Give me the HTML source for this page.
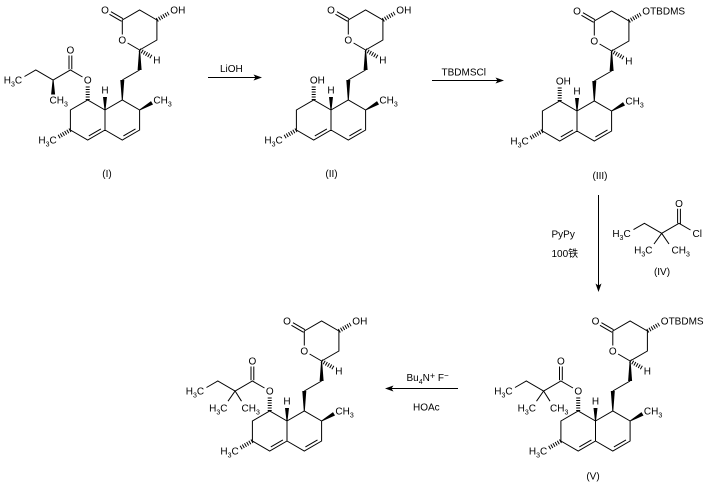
<!DOCTYPE html>
<html>
<head>
<meta charset="utf-8">
<style>
html,body{margin:0;padding:0;background:#fff;}
svg{display:block;}
text{font-family:"Liberation Sans",Arial,"Noto Sans CJK SC",sans-serif;font-size:10px;fill:#000;}
.b{stroke:#000;stroke-width:1;fill:none;}
.h{stroke:#000;stroke-width:4;stroke-dasharray:1 1.5;fill:none;}
polygon{fill:#000;stroke:none;}
</style>
</head>
<body>
<svg width="708" height="484" viewBox="0 0 708 484" xmlns="http://www.w3.org/2000/svg">

<!-- ========== Molecule I ========== -->
<g transform="translate(105,110)">
  <path class="b" d="M0,0 L-17.3,-10 L-34.6,0 L-34.6,20 L-17.3,30 L0,20 Z M0,0 L17.3,-10 L34.6,0 L34.6,20 L17.3,30 L0,20 M-16.2,25.9 L-4.1,18.9 M18.4,25.9 L30.5,18.9 M17.3,-30 L34.6,-40 M34.6,-60 L22.6,-67 M17.3,-75.5 L17.3,-90 L34.6,-100 L51.9,-90 L51.9,-70 L34.6,-60 M18.05,-91.3 L5.95,-98.3 M16.55,-88.7 L4.45,-95.7"/>
  <polygon points="-0.5,0 0.5,0 2,-13 -2,-13"/>
  <polygon points="16.8,-10 17.8,-10 19.3,-30 15.3,-30"/>
  <polygon points="34.1,-60 35.1,-60 36.6,-40 32.6,-40"/>
  <polygon points="34.35,-0.43 34.85,0.43 48,-5.5 46,-8.9"/>
  <line class="h" x1="-34.6" y1="20" x2="-46.5" y2="26.9"/>
  <line class="h" x1="34.6" y1="-60" x2="46.5" y2="-53.1"/>
  <line class="h" x1="51.9" y1="-90" x2="63.5" y2="-96.7"/>
  <text x="0" y="-16.4" text-anchor="middle">H</text>
  <text x="48.4" y="-6.4">CH<tspan dy="3" font-size="7">3</tspan></text>
  <text x="-48.3" y="33.6" text-anchor="end">H<tspan dy="3" font-size="7">3</tspan><tspan dy="-3">C</tspan></text>
  <text x="17.3" y="-66.4" text-anchor="middle">O</text>
  <text x="0" y="-96.4" text-anchor="middle">O</text>
  <text x="51.9" y="-46.4" text-anchor="middle">H</text>
  <text x="65.3" y="-96.4">OH</text>
  <!-- butanoate ester -->
  <line class="h" x1="-17.3" y1="-10" x2="-17.3" y2="-24.5"/>
  <path class="b" d="M-22.5,-33 L-34.6,-40 L-51.9,-30 L-69.2,-40 L-80.5,-33.5 M-36,-40.8 L-36,-54.5 M-33.2,-40.8 L-33.2,-54.5"/>
  <polygon points="-52.4,-30 -51.4,-30 -49.9,-15.5 -53.9,-15.5"/>
  <text x="-17.3" y="-26.4" text-anchor="middle">O</text>
  <text x="-34.6" y="-56.4" text-anchor="middle">O</text>
  <text x="-55.5" y="-6.4">CH<tspan dy="3" font-size="7">3</tspan></text>
  <text x="-82.9" y="-26.4" text-anchor="end">H<tspan dy="3" font-size="7">3</tspan><tspan dy="-3">C</tspan></text>
</g>
<text x="107" y="177" text-anchor="middle">(I)</text>

<!-- ========== Arrow 1 ========== -->
<line class="b" x1="208" y1="77.5" x2="256" y2="77.5"/>
<polygon points="262,77.5 253.5,74.5 255.5,77.5 253.5,80.5"/>
<text x="220" y="72">LiOH</text>

<!-- ========== Molecule II ========== -->
<g transform="translate(331,110)">
  <path class="b" d="M0,0 L-17.3,-10 L-34.6,0 L-34.6,20 L-17.3,30 L0,20 Z M0,0 L17.3,-10 L34.6,0 L34.6,20 L17.3,30 L0,20 M-16.2,25.9 L-4.1,18.9 M18.4,25.9 L30.5,18.9 M17.3,-30 L34.6,-40 M34.6,-60 L22.6,-67 M17.3,-75.5 L17.3,-90 L34.6,-100 L51.9,-90 L51.9,-70 L34.6,-60 M18.05,-91.3 L5.95,-98.3 M16.55,-88.7 L4.45,-95.7"/>
  <polygon points="-0.5,0 0.5,0 2,-13 -2,-13"/>
  <polygon points="16.8,-10 17.8,-10 19.3,-30 15.3,-30"/>
  <polygon points="34.1,-60 35.1,-60 36.6,-40 32.6,-40"/>
  <polygon points="34.35,-0.43 34.85,0.43 48,-5.5 46,-8.9"/>
  <line class="h" x1="-34.6" y1="20" x2="-46.5" y2="26.9"/>
  <line class="h" x1="34.6" y1="-60" x2="46.5" y2="-53.1"/>
  <line class="h" x1="51.9" y1="-90" x2="63.5" y2="-96.7"/>
  <text x="0" y="-16.4" text-anchor="middle">H</text>
  <text x="48.4" y="-6.4">CH<tspan dy="3" font-size="7">3</tspan></text>
  <text x="-48.3" y="33.6" text-anchor="end">H<tspan dy="3" font-size="7">3</tspan><tspan dy="-3">C</tspan></text>
  <text x="17.3" y="-66.4" text-anchor="middle">O</text>
  <text x="0" y="-96.4" text-anchor="middle">O</text>
  <text x="51.9" y="-46.4" text-anchor="middle">H</text>
  <text x="65.3" y="-96.4">OH</text>
  <line class="h" x1="-17.3" y1="-10" x2="-17.3" y2="-24.5"/>
  <text x="-21.2" y="-26.4">OH</text>
</g>
<text x="331.5" y="177" text-anchor="middle">(II)</text>

<!-- ========== Arrow 2 ========== -->
<line class="b" x1="432" y1="80.5" x2="498" y2="80.5"/>
<polygon points="504,80.5 495.5,77.5 497.5,80.5 495.5,83.5"/>
<text x="441.5" y="75.5">TBDMSCl</text>

<!-- ========== Molecule III ========== -->
<g transform="translate(577,111)">
  <path class="b" d="M0,0 L-17.3,-10 L-34.6,0 L-34.6,20 L-17.3,30 L0,20 Z M0,0 L17.3,-10 L34.6,0 L34.6,20 L17.3,30 L0,20 M-16.2,25.9 L-4.1,18.9 M18.4,25.9 L30.5,18.9 M17.3,-30 L34.6,-40 M34.6,-60 L22.6,-67 M17.3,-75.5 L17.3,-90 L34.6,-100 L51.9,-90 L51.9,-70 L34.6,-60 M18.05,-91.3 L5.95,-98.3 M16.55,-88.7 L4.45,-95.7"/>
  <polygon points="-0.5,0 0.5,0 2,-13 -2,-13"/>
  <polygon points="16.8,-10 17.8,-10 19.3,-30 15.3,-30"/>
  <polygon points="34.1,-60 35.1,-60 36.6,-40 32.6,-40"/>
  <polygon points="34.35,-0.43 34.85,0.43 48,-5.5 46,-8.9"/>
  <line class="h" x1="-34.6" y1="20" x2="-46.5" y2="26.9"/>
  <line class="h" x1="34.6" y1="-60" x2="46.5" y2="-53.1"/>
  <line class="h" x1="51.9" y1="-90" x2="63.5" y2="-96.7"/>
  <text x="0" y="-16.4" text-anchor="middle">H</text>
  <text x="48.4" y="-6.4">CH<tspan dy="3" font-size="7">3</tspan></text>
  <text x="-48.3" y="33.6" text-anchor="end">H<tspan dy="3" font-size="7">3</tspan><tspan dy="-3">C</tspan></text>
  <text x="17.3" y="-66.4" text-anchor="middle">O</text>
  <text x="0" y="-96.4" text-anchor="middle">O</text>
  <text x="51.9" y="-46.4" text-anchor="middle">H</text>
  <text x="65.3" y="-96.4">OTBDMS</text>
  <line class="h" x1="-17.3" y1="-10" x2="-17.3" y2="-24.5"/>
  <text x="-21.2" y="-26.4">OH</text>
</g>
<text x="600" y="179" text-anchor="middle">(III)</text>

<!-- ========== Arrow 3 (down) ========== -->
<line class="b" x1="598.5" y1="195" x2="598.5" y2="286"/>
<polygon points="598.5,292 595.5,283.5 598.5,285.5 601.5,283.5"/>
<text x="551.5" y="237.5">PyPy</text>
<text x="551.5" y="257">100铁</text>

<!-- ========== Reagent IV ========== -->
<path class="b" d="M633.5,229.6 L644.4,223.3 L661.7,233.3 L679,223.3 L690.5,230 M677.6,223.3 L677.6,208.8 M680.4,224.1 L680.4,208.8 M661.7,233.3 L654,244 M661.7,233.3 L669,244"/>
<text x="679" y="206.9" text-anchor="middle">O</text>
<text x="692.5" y="236.9">Cl</text>
<text x="630.7" y="236.9" text-anchor="end">H<tspan dy="3" font-size="7">3</tspan><tspan dy="-3">C</tspan></text>
<text x="652.5" y="253.5" text-anchor="end">H<tspan dy="3" font-size="7">3</tspan><tspan dy="-3">C</tspan></text>
<text x="671.5" y="253.5">CH<tspan dy="3" font-size="7">3</tspan></text>
<text x="662" y="275" text-anchor="middle">(IV)</text>

<!-- ========== Molecule V ========== -->
<g transform="translate(595.5,421)">
  <path class="b" d="M0,0 L-17.3,-10 L-34.6,0 L-34.6,20 L-17.3,30 L0,20 Z M0,0 L17.3,-10 L34.6,0 L34.6,20 L17.3,30 L0,20 M-16.2,25.9 L-4.1,18.9 M18.4,25.9 L30.5,18.9 M17.3,-30 L34.6,-40 M34.6,-60 L22.6,-67 M17.3,-75.5 L17.3,-90 L34.6,-100 L51.9,-90 L51.9,-70 L34.6,-60 M18.05,-91.3 L5.95,-98.3 M16.55,-88.7 L4.45,-95.7"/>
  <polygon points="-0.5,0 0.5,0 2,-13 -2,-13"/>
  <polygon points="16.8,-10 17.8,-10 19.3,-30 15.3,-30"/>
  <polygon points="34.1,-60 35.1,-60 36.6,-40 32.6,-40"/>
  <polygon points="34.35,-0.43 34.85,0.43 48,-5.5 46,-8.9"/>
  <line class="h" x1="-34.6" y1="20" x2="-46.5" y2="26.9"/>
  <line class="h" x1="34.6" y1="-60" x2="46.5" y2="-53.1"/>
  <line class="h" x1="51.9" y1="-90" x2="63.5" y2="-96.7"/>
  <text x="0" y="-16.4" text-anchor="middle">H</text>
  <text x="48.4" y="-6.4">CH<tspan dy="3" font-size="7">3</tspan></text>
  <text x="-48.3" y="33.6" text-anchor="end">H<tspan dy="3" font-size="7">3</tspan><tspan dy="-3">C</tspan></text>
  <text x="17.3" y="-66.4" text-anchor="middle">O</text>
  <text x="0" y="-96.4" text-anchor="middle">O</text>
  <text x="51.9" y="-46.4" text-anchor="middle">H</text>
  <text x="65.3" y="-96.4">OTBDMS</text>
  <!-- 2,2-dimethylbutanoate -->
  <line class="h" x1="-17.3" y1="-10" x2="-17.3" y2="-24.5"/>
  <path class="b" d="M-22.5,-33 L-34.6,-40 L-51.9,-30 L-69.2,-40 L-80.5,-33.5 M-36,-40.8 L-36,-54.5 M-33.2,-40.8 L-33.2,-54.5 M-51.9,-30 L-59,-19.8 M-51.9,-30 L-45.5,-19.8"/>
  <text x="-17.3" y="-26.4" text-anchor="middle">O</text>
  <text x="-34.6" y="-56.4" text-anchor="middle">O</text>
  <text x="-59.5" y="-9.5" text-anchor="end">H<tspan dy="3" font-size="7">3</tspan><tspan dy="-3">C</tspan></text>
  <text x="-45.5" y="-9.5">CH<tspan dy="3" font-size="7">3</tspan></text>
  <text x="-82.9" y="-26.4" text-anchor="end">H<tspan dy="3" font-size="7">3</tspan><tspan dy="-3">C</tspan></text>
</g>
<text x="593" y="479.5" text-anchor="middle">(V)</text>

<!-- ========== Arrow 4 (left) ========== -->
<line class="b" x1="391" y1="388.5" x2="458" y2="388.5"/>
<polygon points="385,388.5 393.5,385.5 391.5,388.5 393.5,391.5"/>
<text x="406.5" y="381">Bu<tspan dy="3" font-size="7">4</tspan><tspan dy="-3">N</tspan><tspan dy="-2" font-size="9">+</tspan><tspan dy="2"> F</tspan><tspan dy="-3" font-size="8">−</tspan></text>
<text x="413" y="410.5">HOAc</text>

<!-- ========== Molecule VI (product) ========== -->
<g transform="translate(287,421)">
  <path class="b" d="M0,0 L-17.3,-10 L-34.6,0 L-34.6,20 L-17.3,30 L0,20 Z M0,0 L17.3,-10 L34.6,0 L34.6,20 L17.3,30 L0,20 M-16.2,25.9 L-4.1,18.9 M18.4,25.9 L30.5,18.9 M17.3,-30 L34.6,-40 M34.6,-60 L22.6,-67 M17.3,-75.5 L17.3,-90 L34.6,-100 L51.9,-90 L51.9,-70 L34.6,-60 M18.05,-91.3 L5.95,-98.3 M16.55,-88.7 L4.45,-95.7"/>
  <polygon points="-0.5,0 0.5,0 2,-13 -2,-13"/>
  <polygon points="16.8,-10 17.8,-10 19.3,-30 15.3,-30"/>
  <polygon points="34.1,-60 35.1,-60 36.6,-40 32.6,-40"/>
  <polygon points="34.35,-0.43 34.85,0.43 48,-5.5 46,-8.9"/>
  <line class="h" x1="-34.6" y1="20" x2="-46.5" y2="26.9"/>
  <line class="h" x1="34.6" y1="-60" x2="46.5" y2="-53.1"/>
  <line class="h" x1="51.9" y1="-90" x2="63.5" y2="-96.7"/>
  <text x="0" y="-16.4" text-anchor="middle">H</text>
  <text x="48.4" y="-6.4">CH<tspan dy="3" font-size="7">3</tspan></text>
  <text x="-48.3" y="33.6" text-anchor="end">H<tspan dy="3" font-size="7">3</tspan><tspan dy="-3">C</tspan></text>
  <text x="17.3" y="-66.4" text-anchor="middle">O</text>
  <text x="0" y="-96.4" text-anchor="middle">O</text>
  <text x="51.9" y="-46.4" text-anchor="middle">H</text>
  <text x="65.3" y="-96.4">OH</text>
  <!-- 2,2-dimethylbutanoate -->
  <line class="h" x1="-17.3" y1="-10" x2="-17.3" y2="-24.5"/>
  <path class="b" d="M-22.5,-33 L-34.6,-40 L-51.9,-30 L-69.2,-40 L-80.5,-33.5 M-36,-40.8 L-36,-54.5 M-33.2,-40.8 L-33.2,-54.5 M-51.9,-30 L-59,-19.8 M-51.9,-30 L-45.5,-19.8"/>
  <text x="-17.3" y="-26.4" text-anchor="middle">O</text>
  <text x="-34.6" y="-56.4" text-anchor="middle">O</text>
  <text x="-59.5" y="-9.5" text-anchor="end">H<tspan dy="3" font-size="7">3</tspan><tspan dy="-3">C</tspan></text>
  <text x="-45.5" y="-9.5">CH<tspan dy="3" font-size="7">3</tspan></text>
  <text x="-82.9" y="-26.4" text-anchor="end">H<tspan dy="3" font-size="7">3</tspan><tspan dy="-3">C</tspan></text>
</g>

</svg>
</body>
</html>
